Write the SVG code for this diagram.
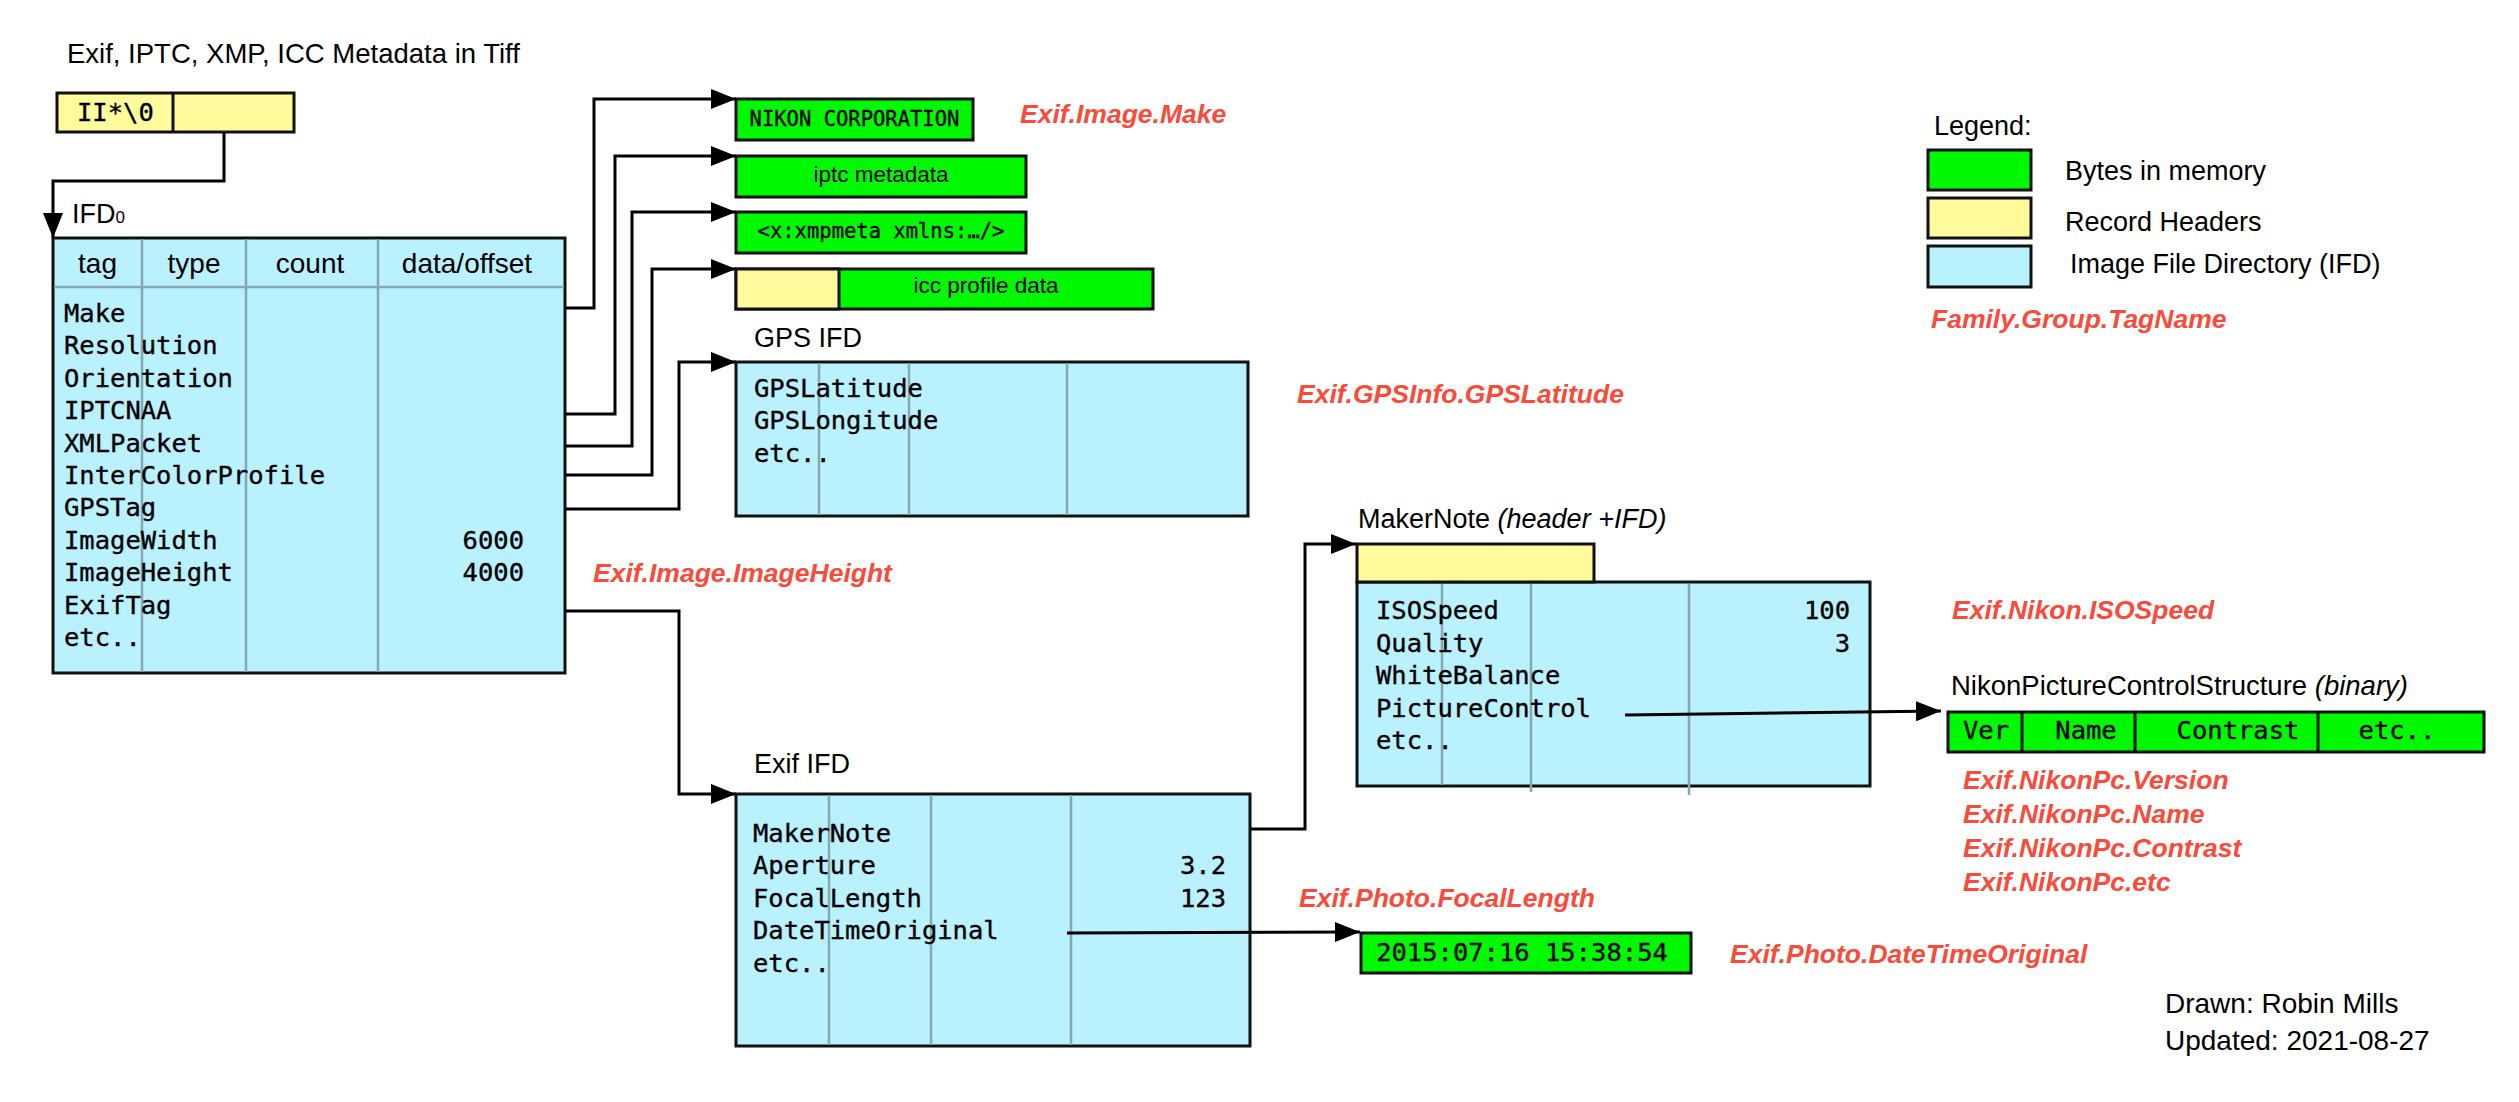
<svg xmlns="http://www.w3.org/2000/svg" width="2519" height="1102" viewBox="0 0 2519 1102">
<style>
.bg{fill:#ffffff}
.ifd{fill:#B9F1FE;stroke:#111;stroke-width:3}
.hdr{fill:#FFFB9C;stroke:#111;stroke-width:3}
.mem{fill:#00F800;stroke:#111;stroke-width:3}
.col{stroke:#86A8B3;stroke-width:2.5;fill:none}
.div{stroke:#111;stroke-width:3;fill:none}
.con{stroke:#000;stroke-width:3;fill:none}
.sans{font-family:"Liberation Sans",Arial,Helvetica,sans-serif;fill:#000}
.lbl{font-size:27px}
.th{font-size:28px;text-anchor:middle}
.mono{font-family:"DejaVu Sans Mono","Liberation Mono",monospace;font-size:25.5px;fill:#000;stroke:#000;stroke-width:0.35}
.small{font-size:20.5px}
.red{font-family:"Liberation Sans",Arial,Helvetica,sans-serif;font-size:26.5px;font-weight:bold;font-style:italic;fill:#FA4A3A}
.end{text-anchor:end}
.mid{text-anchor:middle}
</style>
<defs>
<marker id="arr" markerUnits="userSpaceOnUse" markerWidth="26" markerHeight="20" refX="25" refY="10" orient="auto">
<path d="M0,0 L25,10 L0,20 Z" fill="#000"/>
</marker>
</defs>
<rect class="bg" x="0" y="0" width="2519" height="1102"/>

<text class="sans" x="67" y="63" font-size="27.5">Exif, IPTC, XMP, ICC Metadata in Tiff</text>

<g id="tiff-header">
<rect class="hdr" x="57" y="93" width="237" height="39"/>
<line class="div" x1="173" y1="93" x2="173" y2="132"/>
<text class="mono" x="77" y="121">II*\0</text>
</g>

<g id="ifd0">
<text class="sans lbl" x="72" y="223">IFD<tspan font-size="17">0</tspan></text>
<rect class="ifd" x="53" y="238" width="512" height="435"/>
<line class="col" x1="142" y1="239" x2="142" y2="672"/>
<line class="col" x1="246" y1="239" x2="246" y2="672"/>
<line class="col" x1="378" y1="239" x2="378" y2="672"/>
<line class="col" x1="54" y1="287" x2="564" y2="287" stroke="#6E8E98"/>
<text class="sans th" x="97.5" y="273">tag</text>
<text class="sans th" x="194" y="273">type</text>
<text class="sans th" x="310" y="273">count</text>
<text class="sans th" x="467" y="273">data/offset</text>
<text class="mono" x="64" y="322">Make</text>
<text class="mono" x="64" y="354.4">Resolution</text>
<text class="mono" x="64" y="386.8">Orientation</text>
<text class="mono" x="64" y="419.2">IPTCNAA</text>
<text class="mono" x="64" y="451.6">XMLPacket</text>
<text class="mono" x="64" y="484">InterColorProfile</text>
<text class="mono" x="64" y="516.4">GPSTag</text>
<text class="mono" x="64" y="548.8">ImageWidth</text>
<text class="mono end" x="524" y="548.8">6000</text>
<text class="mono" x="64" y="581.2">ImageHeight</text>
<text class="mono end" x="524" y="581.2">4000</text>
<text class="mono" x="64" y="613.6">ExifTag</text>
<text class="mono" x="64" y="646">etc..</text>
</g>

<g id="make-data">
<rect class="mem" x="736" y="99" width="237" height="41"/>
<text class="mono small mid" x="854.5" y="126">NIKON CORPORATION</text>
</g>
<g id="iptc-data">
<rect class="mem" x="736" y="156" width="290" height="41"/>
<text class="sans mid" x="881" y="182" font-size="22.5">iptc metadata</text>
</g>
<g id="xmp-data">
<rect class="mem" x="736" y="212" width="290" height="41"/>
<text class="mono small mid" x="881" y="238">&lt;x:xmpmeta xmlns:…/&gt;</text>
</g>
<g id="icc-data">
<rect class="mem" x="736" y="269" width="417" height="40"/>
<rect class="hdr" x="736" y="269" width="103" height="40"/>
<text class="sans mid" x="986" y="293" font-size="22.5">icc profile data</text>
</g>

<g id="gps-ifd">
<text class="sans lbl" x="754" y="347">GPS IFD</text>
<rect class="ifd" x="736" y="362" width="512" height="154"/>
<line class="col" x1="819" y1="363" x2="819" y2="515"/>
<line class="col" x1="909" y1="363" x2="909" y2="515"/>
<line class="col" x1="1067" y1="363" x2="1067" y2="515"/>
<text class="mono" x="754" y="397">GPSLatitude</text>
<text class="mono" x="754" y="429">GPSLongitude</text>
<text class="mono" x="754" y="462">etc..</text>
</g>

<g id="exif-ifd">
<text class="sans lbl" x="754" y="773">Exif IFD</text>
<rect class="ifd" x="736" y="794" width="514" height="252"/>
<line class="col" x1="829" y1="795" x2="829" y2="1045"/>
<line class="col" x1="931" y1="795" x2="931" y2="1045"/>
<line class="col" x1="1071" y1="795" x2="1071" y2="1045"/>
<text class="mono" x="753" y="842">MakerNote</text>
<text class="mono" x="753" y="874">Aperture</text>
<text class="mono end" x="1226" y="874">3.2</text>
<text class="mono" x="753" y="907">FocalLength</text>
<text class="mono end" x="1226" y="907">123</text>
<text class="mono" x="753" y="939">DateTimeOriginal</text>
<text class="mono" x="753" y="972">etc..</text>
</g>

<g id="datetime-data">
<rect class="mem" x="1361" y="933" width="330" height="40"/>
<text class="mono mid" x="1522" y="961">2015:07:16 15:38:54</text>
</g>

<g id="makernote">
<text class="sans lbl" x="1358" y="528">MakerNote <tspan font-style="italic">(header +IFD)</tspan></text>
<rect class="ifd" x="1357" y="582" width="513" height="204"/>
<rect class="hdr" x="1357" y="544" width="237" height="38"/>
<line class="col" x1="1442" y1="584" x2="1442" y2="785"/>
<line class="col" x1="1531" y1="584" x2="1531" y2="792"/>
<line class="col" x1="1689" y1="584" x2="1689" y2="795"/>
<text class="mono" x="1376" y="619">ISOSpeed</text>
<text class="mono end" x="1850" y="619">100</text>
<text class="mono" x="1376" y="652">Quality</text>
<text class="mono end" x="1850" y="652">3</text>
<text class="mono" x="1376" y="684">WhiteBalance</text>
<text class="mono" x="1376" y="717">PictureControl</text>
<text class="mono" x="1376" y="749">etc..</text>
</g>

<g id="nikon-pc">
<text class="sans" x="1951" y="695" font-size="27.5">NikonPictureControlStructure <tspan font-style="italic">(binary)</tspan></text>
<rect class="mem" x="1948" y="712" width="536" height="40"/>
<line class="div" x1="2022" y1="712" x2="2022" y2="752"/>
<line class="div" x1="2135" y1="712" x2="2135" y2="752"/>
<line class="div" x1="2318" y1="712" x2="2318" y2="752"/>
<text class="mono mid" x="1986" y="739">Ver</text>
<text class="mono mid" x="2086" y="739">Name</text>
<text class="mono mid" x="2238" y="739">Contrast</text>
<text class="mono mid" x="2397" y="739">etc..</text>
</g>

<g id="connectors">
<path class="con" d="M224,132 V181 H53 V238" marker-end="url(#arr)"/>
<path class="con" d="M565,308 H594 V99 H736" marker-end="url(#arr)"/>
<path class="con" d="M565,414 H615 V156 H736" marker-end="url(#arr)"/>
<path class="con" d="M565,446 H632 V212 H736" marker-end="url(#arr)"/>
<path class="con" d="M565,475 H652 V269 H736" marker-end="url(#arr)"/>
<path class="con" d="M565,509 H679 V362 H736" marker-end="url(#arr)"/>
<path class="con" d="M565,611 H679 V794 H736" marker-end="url(#arr)"/>
<path class="con" d="M1250,829 H1305 V544 H1356" marker-end="url(#arr)"/>
<path class="con" d="M1625,715 L1941,711" marker-end="url(#arr)"/>
<path class="con" d="M1067,933 L1360,932" marker-end="url(#arr)"/>
</g>

<g id="tag-names">
<text class="red" x="1020" y="123">Exif.Image.Make</text>
<text class="red" x="593" y="582">Exif.Image.ImageHeight</text>
<text class="red" x="1297" y="403">Exif.GPSInfo.GPSLatitude</text>
<text class="red" x="1952" y="619">Exif.Nikon.ISOSpeed</text>
<text class="red" x="1299" y="907">Exif.Photo.FocalLength</text>
<text class="red" x="1730" y="963">Exif.Photo.DateTimeOriginal</text>
<text class="red" x="1963" y="789">Exif.NikonPc.Version</text>
<text class="red" x="1963" y="823">Exif.NikonPc.Name</text>
<text class="red" x="1963" y="857">Exif.NikonPc.Contrast</text>
<text class="red" x="1963" y="891">Exif.NikonPc.etc</text>
</g>

<g id="legend">
<text class="sans lbl" x="1934" y="135">Legend:</text>
<rect class="mem" x="1928" y="150" width="103" height="40"/>
<rect class="hdr" x="1928" y="198" width="103" height="40"/>
<rect class="ifd" x="1928" y="246" width="103" height="41"/>
<text class="sans lbl" x="2065" y="180">Bytes in memory</text>
<text class="sans lbl" x="2065" y="231">Record Headers</text>
<text class="sans lbl" x="2070" y="273">Image File Directory (IFD)</text>
<text class="red" x="1931" y="328">Family.Group.TagName</text>
</g>

<g id="credits">
<text class="sans" x="2165" y="1013" font-size="28">Drawn: Robin Mills</text>
<text class="sans" x="2165" y="1050" font-size="28">Updated: 2021-08-27</text>
</g>
</svg>
